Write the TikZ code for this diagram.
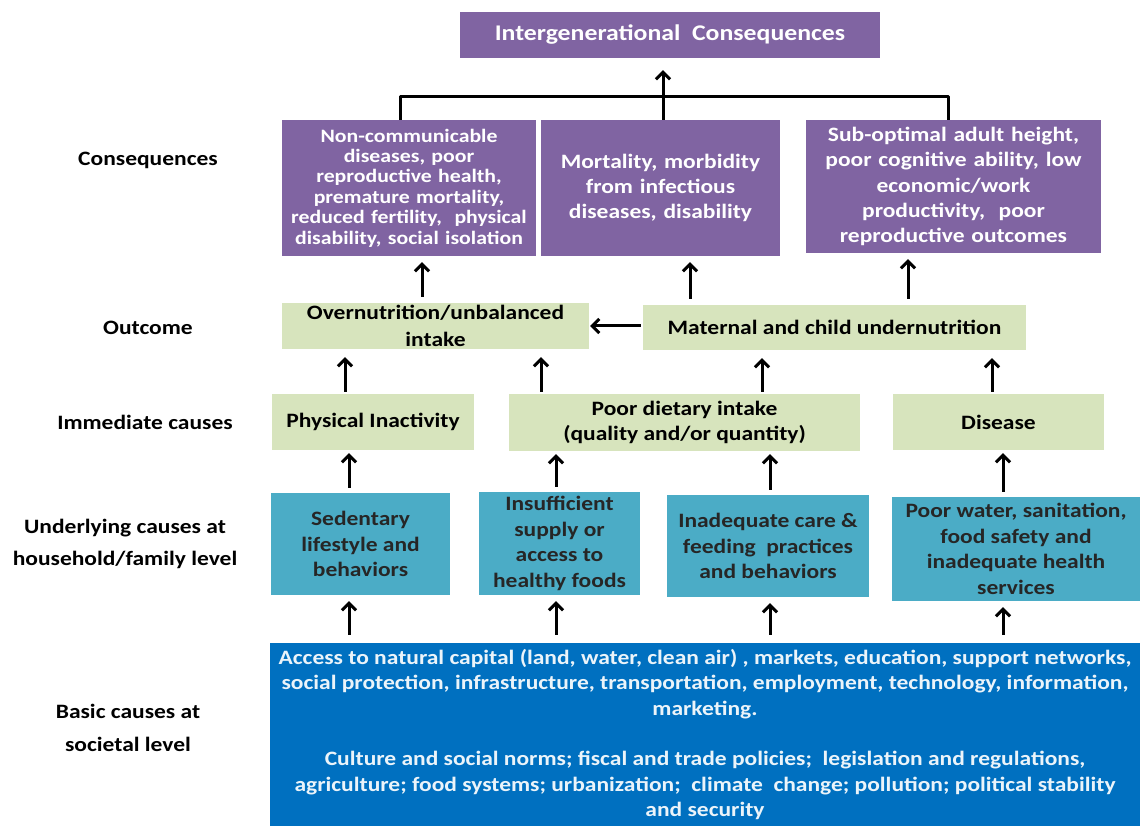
\documentclass[tikz,border=0pt]{standalone}
\usepackage{fontspec}
\setmainfont{Carlito}[FakeStretch=1.15]
\usetikzlibrary{arrows.meta}
\definecolor{conscol}{HTML}{8064A2}
\definecolor{outcol}{HTML}{D7E4BD}
\definecolor{undcol}{HTML}{4BACC6}
\definecolor{basiccol}{HTML}{0070C0}
\begin{document}
\begin{tikzpicture}[>={Straight Barb[length=7bp,width=14bp]},line join=bevel,
  box/.style={inner sep=0pt,align=center,font=\bfseries\fontsize{20.5}{25.5}\selectfont},
  consbox/.style={box,fill=conscol,text=white,font=\bfseries\fontsize{19}{20.5}\selectfont},
  outbox/.style={box,fill=outcol,text=black},
  undbox/.style={box,fill=undcol,text=black!85},
  basicbox/.style={box,fill=basiccol,text=white!92!basiccol},
  lvl/.style={align=center,font=\bfseries\fontsize{20.5}{32.5}\selectfont},
  link/.style={->,line width=3bp}]
  \useasboundingbox (0bp,0bp) rectangle (1140bp,826bp);
%%
  % Row: intergenerational
  \node [consbox,font=\bfseries\fontsize{22.5}{26}\selectfont,minimum width=420bp,minimum height=46bp] (intergen) at (670bp,791bp) {Intergenerational\ \ Consequences};
  % Row: consequences
  \node [consbox,minimum width=254bp,minimum height=136bp,text width=250bp] (ncd) at (409bp,638bp)
    {Non-communicable\\ diseases, poor\\ reproductive health,\\ premature mortality,\\ reduced fertility,\ \ physical\\ disability,\ social\ isolation};
  \node [consbox,minimum width=239bp,minimum height=136bp,text width=235bp,font=\bfseries\fontsize{20.5}{25.5}\selectfont] (mort) at (660.5bp,638bp)
    {Mortality, morbidity\\ from infectious\\ diseases, disability};
  \node [consbox,minimum width=295bp,minimum height=133bp,text width=291bp,font=\bfseries\fontsize{20.5}{25.5}\selectfont] (height) at (953.5bp,639.5bp)
    {Sub-optimal adult height,\\ poor cognitive ability, low\\ economic/work\\ productivity,\ \ poor\\ reproductive outcomes};
  % Row: outcome
  \node [outbox,minimum width=307bp,minimum height=46bp,text width=303bp,font=\bfseries\fontsize{20.5}{26.5}\selectfont] (over) at (435.5bp,500bp)
    {Overnutrition/unbalanced\\ intake};
  \node [outbox,minimum width=383bp,minimum height=45bp] (mat) at (834.5bp,498.5bp)
    {Maternal and child undernutrition};
  % Row: immediate causes
  \node [outbox,minimum width=202bp,minimum height=56bp] (phys) at (373bp,404bp) {Physical Inactivity};
  \node [outbox,minimum width=351bp,minimum height=57bp] (diet) at (684.5bp,403.5bp)
    {Poor dietary intake\\ (quality and/or quantity)};
  \node [outbox,minimum width=211bp,minimum height=56bp] (dis) at (998.5bp,404bp) {Disease};
  % Row: underlying causes
  \node [undbox,minimum width=179bp,minimum height=102bp] (sed) at (360.5bp,282bp)
    {Sedentary\\ lifestyle and\\ behaviors};
  \node [undbox,minimum width=161bp,minimum height=103bp] (insuf) at (559.5bp,282.5bp)
    {Insufficient\\ supply or\\ access to\\ healthy foods};
  \node [undbox,minimum width=202bp,minimum height=102bp] (inad) at (768bp,280bp)
    {Inadequate care \&\\ feeding\ \ practices\\ and behaviors};
  \node [undbox,minimum width=248bp,minimum height=104bp] (water) at (1016bp,277bp)
    {Poor water, sanitation,\\ food safety and\\ inadequate health\\ services};
  % Row: basic causes
  \node [basicbox,minimum width=870bp,minimum height=183bp] (basic) at (705bp,91.5bp)
    {Access to natural capital (land, water, clean air) , markets, education, support networks,\\
     social protection, infrastructure, transportation, employment, technology, information,\\
     marketing.\\[25.5bp]
     Culture and social norms; fiscal and trade policies;\ \ legislation and regulations,\\
     agriculture; food systems; urbanization;\ \ climate\ \ change; pollution; political stability\\
     and security};
  % Level labels
  \node [lvl] (lcons) at (148bp,666bp) {Consequences};
  \node [lvl] (lout) at (148bp,498bp) {Outcome};
  \node [lvl] (limm) at (145bp,404bp) {Immediate causes};
  \node [lvl] (lund) at (125bp,282bp) {Underlying causes at\\ household/family level};
  \node [lvl] (lbas) at (128bp,98bp) {Basic causes at\\ societal level};
%%
  % Arrow columns
  \coordinate (hub) at (663bp,729bp);
  \coordinate (bl) at (400bp,729bp);
  \coordinate (br) at (948bp,729bp);
  \coordinate (ca) at (422bp,0bp);
  \coordinate (cb) at (690bp,0bp);
  \coordinate (cc) at (908bp,0bp);
  \coordinate (ia) at (345bp,0bp);
  \coordinate (ib) at (541bp,0bp);
  \coordinate (ic) at (762bp,0bp);
  \coordinate (id) at (992bp,0bp);
  \coordinate (ua) at (349bp,0bp);
  \coordinate (ub) at (556bp,0bp);
  \coordinate (uc) at (770bp,0bp);
  \coordinate (ud) at (1003bp,0bp);
  % Edge: consequences -> intergen
  \draw [line width=3bp] (ncd.north -| bl) -- (bl) -- (br) -- (height.north -| br);
  \draw [link,shorten >=12bp] (mort.north -| hub) -- (intergen.south -| hub);
  % Edge: outcome -> consequences
  \draw [link,shorten <=6bp,shorten >=6bp] (over.north -| ca) -- (ncd.south -| ca);
  \draw [link,shorten <=6bp,shorten >=6bp] (mat.north -| cb) -- (mort.south -| cb);
  \draw [link,shorten <=6bp,shorten >=6bp] (mat.north -| cc) -- (height.south -| cc);
  % Edge: mat -> over
  \draw [link,shorten <=2bp,shorten >=1bp] (mat.west |- over.east) -- (over.east);
  % Edge: immediate -> outcome
  \draw [link,shorten <=2bp,shorten >=8bp] (phys.north -| ia) -- (over.south -| ia);
  \draw [link,shorten <=2bp,shorten >=8bp] (diet.north -| ib) -- (over.south -| ib);
  \draw [link,shorten <=2bp,shorten >=8bp] (diet.north -| ic) -- (mat.south -| ic);
  \draw [link,shorten <=2bp,shorten >=8bp] (dis.north -| id) -- (mat.south -| id);
  % Edge: underlying -> immediate
  \draw [link,shorten <=5bp,shorten >=3bp] (sed.north -| ua) -- (phys.south -| ua);
  \draw [link,shorten <=5bp,shorten >=3bp] (insuf.north -| ub) -- (diet.south -| ub);
  \draw [link,shorten <=5bp,shorten >=3bp] (inad.north -| uc) -- (diet.south -| uc);
  \draw [link,shorten <=5bp,shorten >=3bp] (water.north -| ud) -- (dis.south -| ud);
  % Edge: basic -> underlying
  \draw [link,shorten <=8bp,shorten >=6bp] (basic.north -| ua) -- (sed.south -| ua);
  \draw [link,shorten <=8bp,shorten >=6bp] (basic.north -| ub) -- (insuf.south -| ub);
  \draw [link,shorten <=8bp,shorten >=6bp] (basic.north -| uc) -- (inad.south -| uc);
  \draw [link,shorten <=8bp,shorten >=6bp] (basic.north -| ud) -- (water.south -| ud);
%
\end{tikzpicture}
\end{document}
